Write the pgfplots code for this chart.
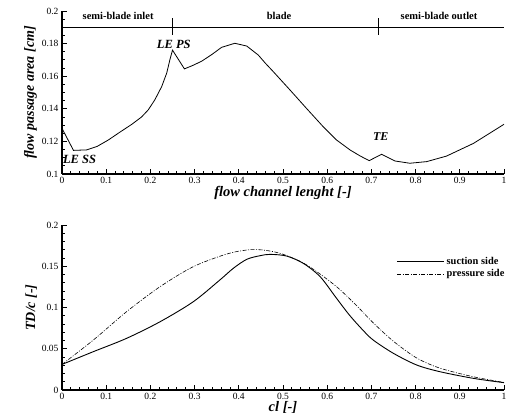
\documentclass[border=0pt]{standalone}
\usepackage{pgfplots}
\pgfplotsset{compat=1.18}
\usepackage{fontspec}
\setmainfont{Liberation Serif}
\begin{document}
\begin{tikzpicture}[x=1pt,y=1pt]
\path[use as bounding box] (0,0) rectangle (514,-416);
\pgfplotsset{
  every axis/.style={
    scale only axis, width=442pt, xmin=0, xmax=1,
    axis lines*=left, axis line style={line width=1.2pt},
    tick align=inside, major tick length=5pt, minor tick length=3pt,
    every tick/.style={line width=0.9pt, black},
    xtick={0,0.1,...,1.01},
    xticklabels={0,0.1,0.2,0.3,0.4,0.5,0.6,0.7,0.8,0.9,1},
    minor x tick num=4,
    ticklabel style={font=\fontsize{9.5}{9.5}\selectfont},
    /pgf/number format/assume math mode=true,
    xlabel style={font=\fontsize{14.5}{14.5}\selectfont\bfseries\itshape, yshift=5pt},
    ylabel style={font=\fontsize{14}{14}\selectfont\bfseries\itshape},
    clip=false,
  }
}
\begin{axis}[at={(62pt,-174pt)}, anchor=south west, height=163pt,
  ymin=0.1, ymax=0.2,
  ytick={0.1,0.12,0.14,0.16,0.18,0.2},
  yticklabels={0.1,0.12,0.14,0.16,0.18,0.2},
  minor y tick num=3,
  xlabel={flow channel lenght [-]},
  ylabel={flow passage area [cm]},
  ylabel style={yshift=-2pt},
]
\addplot[black, line width=0.8pt] coordinates {
(0,0.128) (0.026,0.1145) (0.056,0.1148) (0.08,0.117) (0.105,0.1209) (0.13,0.1255)
(0.158,0.1305) (0.18,0.135) (0.195,0.1393) (0.21,0.1455) (0.2255,0.1536) (0.237,0.162)
(0.244,0.170) (0.25,0.176) (0.277,0.1645) (0.295,0.1665) (0.316,0.1692) (0.34,0.1735)
(0.361,0.1777) (0.391,0.1802) (0.418,0.1785) (0.444,0.173) (0.46,0.168) (0.478,0.1628)
(0.516,0.1515) (0.554,0.140) (0.591,0.129) (0.621,0.1209) (0.652,0.1147) (0.675,0.111)
(0.695,0.1082) (0.723,0.1121) (0.753,0.108) (0.787,0.1066) (0.825,0.1076) (0.87,0.111)
(0.931,0.1188) (1,0.1305)};
\addplot[black, line width=0.8pt] coordinates {(0,0.19) (1,0.19)};
\addplot[black, line width=0.8pt] coordinates {(0.25,0.1853) (0.25,0.1955)};
\addplot[black, line width=0.8pt] coordinates {(0.716,0.1853) (0.716,0.1955)};
\node[font=\fontsize{10.5}{10.5}\selectfont\bfseries] at (axis cs:0.127,0.1969) {semi-blade inlet};
\node[font=\fontsize{10.5}{10.5}\selectfont\bfseries] at (axis cs:0.491,0.1969) {blade};
\node[font=\fontsize{10.5}{10.5}\selectfont\bfseries] at (axis cs:0.853,0.1969) {semi-blade outlet};
\node[font=\fontsize{12.5}{12.5}\selectfont\bfseries\itshape, anchor=west, inner sep=0pt] at (axis cs:0.002,0.1092) {LE SS};
\node[font=\fontsize{12.5}{12.5}\selectfont\bfseries\itshape] at (axis cs:0.253,0.1796) {LE PS};
\node[font=\fontsize{12}{12}\selectfont\bfseries\itshape] at (axis cs:0.721,0.1229) {TE};
\end{axis}
\begin{axis}[at={(62pt,-390pt)}, anchor=south west, height=165pt,
  ymin=0, ymax=0.2,
  ytick={0,0.05,0.1,0.15,0.2},
  yticklabels={0,0.05,0.1,0.15,0.2},
  minor y tick num=4,
  xlabel={cl [-]},
  ylabel={TD/c [-]},
  ylabel style={yshift=-2pt},
  legend style={at={(0.757,0.82)}, anchor=north west, draw=none, fill=none,
    font=\fontsize{10.4}{10.4}\selectfont\bfseries, inner sep=0pt, row sep=0pt},
  legend cell align=left,
  legend image code/.code={\draw[#1] (0pt,0pt) -- (47pt,0pt);},
]
\addplot[black, line width=0.9pt, smooth, tension=0.5] coordinates {
(0,0.031) (0.071,0.0465) (0.146,0.0626) (0.222,0.0828) (0.297,0.107) (0.357,0.1333)
(0.3876,0.1475) (0.418,0.1584) (0.448,0.1628) (0.4706,0.1644) (0.508,0.1624) (0.546,0.1535)
(0.584,0.1374) (0.62,0.112) (0.65,0.091) (0.68,0.073) (0.704,0.0606) (0.75,0.0444)
(0.8025,0.0303) (0.855,0.0222) (0.931,0.0141) (1,0.0089)};
\addlegendentry{suction side}
\addplot[black, line width=0.6pt, smooth, tension=0.5, dash pattern=on 4pt off 1.5pt on 1pt off 1.5pt] coordinates {
(0,0.031) (0.071,0.0606) (0.146,0.0949) (0.222,0.1253) (0.297,0.1495) (0.3725,0.1648)
(0.418,0.1697) (0.448,0.1700) (0.48,0.1675) (0.508,0.1630) (0.546,0.154) (0.584,0.1405)
(0.625,0.1235) (0.667,0.102) (0.704,0.0815) (0.75,0.0590) (0.8025,0.0388) (0.855,0.0265)
(0.931,0.0160) (1,0.0092)};
\addlegendentry{pressure side}
\end{axis}
\end{tikzpicture}
\end{document}
